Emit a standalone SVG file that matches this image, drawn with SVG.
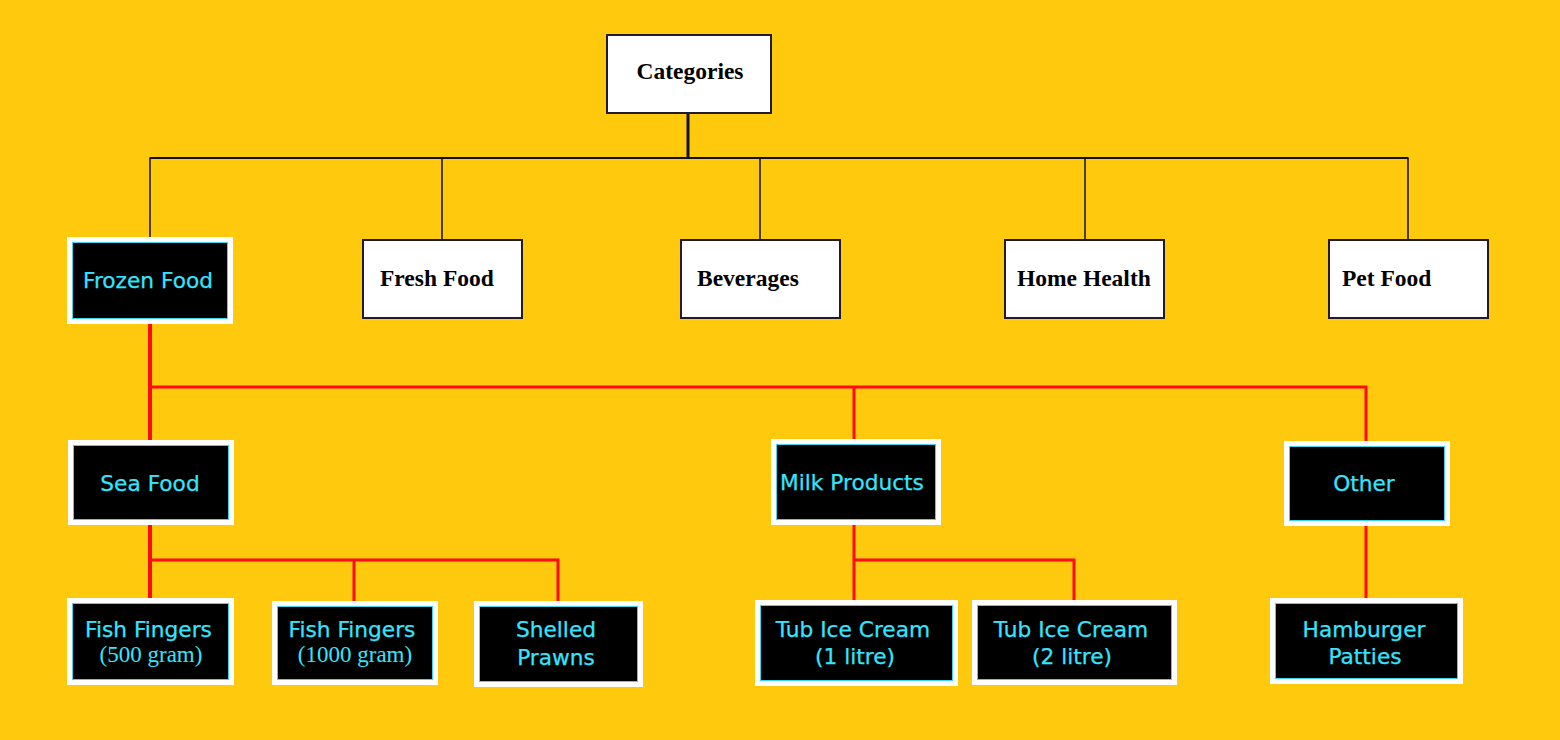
<svg xmlns="http://www.w3.org/2000/svg" width="1560" height="740" viewBox="0 0 1560 740">
<style>
.wbox{fill:#ffffff;stroke:#231a2e;stroke-width:2}
.wtxt{font-family:"Liberation Serif",serif;font-weight:bold;font-size:23.5px;fill:#000}
.bbox{fill:#000;stroke:#ffffff;stroke-width:5}
.bin{fill:none;stroke:#3ad8f0;stroke-width:1}
.btxt{font-family:"DejaVu Sans",sans-serif;font-size:21.7px;fill:#33e6ff;stroke:#33e6ff;stroke-width:0.25;text-anchor:middle}
.stxt{font-family:"Liberation Serif",serif;font-size:23px;fill:#33e6ff;text-anchor:middle}
.blk{stroke:#111;fill:none}
.red{stroke:#ff0a14;fill:none}
</style>
<rect x="0" y="0" width="1560" height="740" fill="#ffc90e"/>
<g id="connectors">
<line class="blk" x1="688" y1="114" x2="688" y2="158" stroke-width="3"/>
<line class="blk" x1="149.5" y1="158" x2="1408.5" y2="158" stroke-width="2"/>
<line class="blk" x1="150" y1="158" x2="150" y2="238" stroke-width="1.5"/>
<line class="blk" x1="442" y1="158" x2="442" y2="240" stroke-width="1.5"/>
<line class="blk" x1="760" y1="158" x2="760" y2="240" stroke-width="1.5"/>
<line class="blk" x1="1085" y1="158" x2="1085" y2="240" stroke-width="1.5"/>
<line class="blk" x1="1408" y1="158" x2="1408" y2="240" stroke-width="1.5"/>
<line class="red" x1="150" y1="324" x2="150" y2="441" stroke-width="4"/>
<polyline class="red" points="150,387 1366,387 1366,441" stroke-width="3"/>
<line class="red" x1="854" y1="387" x2="854" y2="440" stroke-width="3"/>
<line class="red" x1="150" y1="525" x2="150" y2="599" stroke-width="4"/>
<polyline class="red" points="150,560 558,560 558,602" stroke-width="3"/>
<line class="red" x1="354" y1="560" x2="354" y2="602" stroke-width="3"/>
<line class="red" x1="854" y1="525" x2="854" y2="601" stroke-width="3"/>
<polyline class="red" points="854,560 1074,560 1074,601" stroke-width="3"/>
<line class="red" x1="1366" y1="526" x2="1366" y2="599" stroke-width="3"/>
</g>
<g id="categories"><rect class="wbox" x="607" y="35" width="164" height="78"/><text class="wtxt" x="690" y="79" text-anchor="middle">Categories</text></g>
<g id="fresh-food"><rect class="wbox" x="363" y="240" width="159" height="78"/><text class="wtxt" x="380" y="286">Fresh Food</text></g>
<g id="beverages"><rect class="wbox" x="681" y="240" width="159" height="78"/><text class="wtxt" x="697" y="286">Beverages</text></g>
<g id="home-health"><rect class="wbox" x="1005" y="240" width="159" height="78"/><text class="wtxt" x="1017" y="286">Home Health</text></g>
<g id="pet-food"><rect class="wbox" x="1329" y="240" width="159" height="78"/><text class="wtxt" x="1342" y="286">Pet Food</text></g>
<g id="frozen-food"><rect class="bbox" x="69.5" y="239.5" width="161" height="82"/><rect class="bin" x="72.5" y="242.5" width="155" height="76"/><text class="btxt" x="148" y="288">Frozen Food</text></g>
<g id="sea-food"><rect class="bbox" x="70.5" y="442.5" width="161" height="80"/><rect class="bin" x="73.5" y="445.5" width="155" height="74"/><text class="btxt" x="150" y="491">Sea Food</text></g>
<g id="milk-products"><rect class="bbox" x="773.5" y="441.5" width="165" height="81"/><rect class="bin" x="776.5" y="444.5" width="159" height="75"/><text class="btxt" x="852" y="490">Milk Products</text></g>
<g id="other"><rect class="bbox" x="1286.5" y="443.5" width="161" height="80"/><rect class="bin" x="1289.5" y="446.5" width="155" height="74"/><text class="btxt" x="1364" y="491">Other</text></g>
<g id="fish-fingers-500"><rect class="bbox" x="69.5" y="600.5" width="162" height="82"/><rect class="bin" x="72.5" y="603.5" width="156" height="76"/><text class="btxt" x="148.5" y="637">Fish Fingers</text><text class="stxt" x="151" y="662">(500 gram)</text></g>
<g id="fish-fingers-1000"><rect class="bbox" x="274.5" y="603.5" width="161" height="79"/><rect class="bin" x="277.5" y="606.5" width="155" height="73"/><text class="btxt" x="352" y="637">Fish Fingers</text><text class="stxt" x="355" y="662">(1000 gram)</text></g>
<g id="shelled-prawns"><rect class="bbox" x="476.5" y="603.5" width="164" height="81"/><rect class="bin" x="479.5" y="606.5" width="158" height="75"/><text class="btxt" x="556" y="637">Shelled</text><text class="btxt" x="556" y="665">Prawns</text></g>
<g id="tub-ice-cream-1"><rect class="bbox" x="757.5" y="602.5" width="198" height="81"/><rect class="bin" x="760.5" y="605.5" width="192" height="75"/><text class="btxt" x="853" y="637">Tub Ice Cream</text><text class="btxt" x="855" y="664">(1 litre)</text></g>
<g id="tub-ice-cream-2"><rect class="bbox" x="974.5" y="602.5" width="200" height="80"/><rect class="bin" x="977.5" y="605.5" width="194" height="74"/><text class="btxt" x="1071" y="637">Tub Ice Cream</text><text class="btxt" x="1072" y="664">(2 litre)</text></g>
<g id="hamburger-patties"><rect class="bbox" x="1272.5" y="600.5" width="188" height="81"/><rect class="bin" x="1275.5" y="603.5" width="182" height="75"/><text class="btxt" x="1364" y="637">Hamburger</text><text class="btxt" x="1365" y="664">Patties</text></g>
</svg>
